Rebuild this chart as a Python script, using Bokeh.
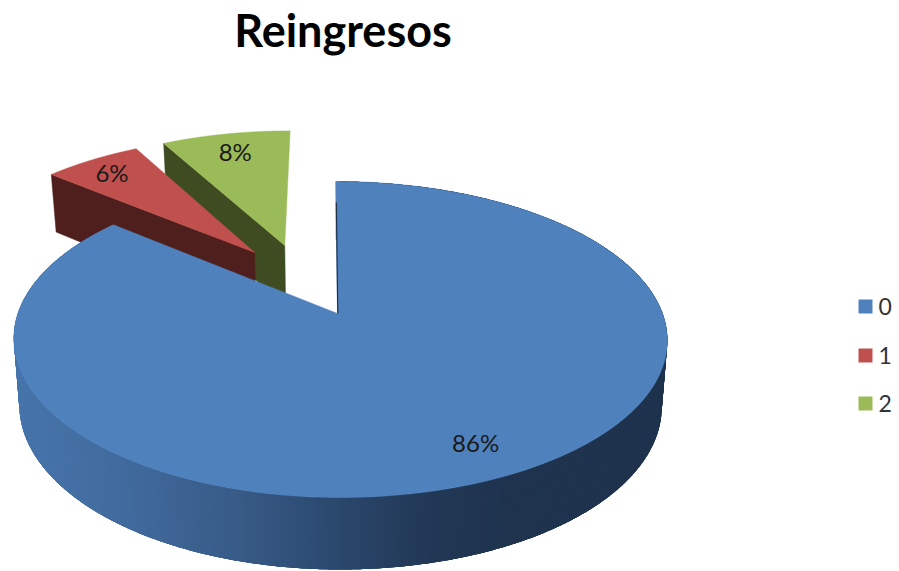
import numpy as np
from bokeh.plotting import figure
from bokeh.models import ColumnDataSource
from bokeh.core.properties import value
from bokeh.embed import file_html
from bokeh.resources import INLINE

title = "Reingresos"
categories = ["0", "1", "2"]
shares = [86, 6, 8]
percent_labels = ["86%", "6%", "8%"]
colors = ["#4f81bd", "#c0504d", "#9bbb59"]
inner_colors = ["#1f334e", "#4f1f1d", "#3f4c22"]

# Explosion of each slice on the pie plane, and where its label sits along the bisector
explode = [(0.0, 0.0), (-0.275, 0.425), (-0.175, 0.477)]
label_radius = [0.81, 0.85, 0.82]
label_nudge = [(9, 1), (-2, 0), (0, 0)]

# Perspective projection of the pie plane onto the page
X0, Y0, PERSP, AY = 337.0, 313.0, 0.1646, 153.7
AX_RIGHT, AX_LEFT = 325.0, 319.6
SKEW = -2.0


def project(u, v):
    u, v = np.asarray(u, float), np.asarray(v, float)
    w = 1 + PERSP * v
    ax = np.where(u >= 0, AX_RIGHT, AX_LEFT)
    return X0 + (ax * u + SKEW * v) / w, Y0 - AY * v / w


def drop(x, y, v):
    """Bottom of the extrusion below a top-face point."""
    return X0 + (np.asarray(x) - X0) * 0.983, np.asarray(y) + 65 - 7 * np.asarray(v)


def wedge(start, end, offset, n=90):
    t = np.radians(np.linspace(start, end, n))
    us = np.concatenate([[0.0], np.sin(t)]) + offset[0]
    vs = np.concatenate([[0.0], np.cos(t)]) + offset[1]
    return us, vs


edges = np.concatenate([[0.0], np.cumsum(shares) / np.sum(shares) * 360.0])

p = figure(width=899, height=571, x_range=(0, 899), y_range=(571, 0),
           output_backend="svg", toolbar_location=None, min_border=0,
           outline_line_color=None, background_fill_color="white")
p.axis.visible = False
p.grid.visible = False


def inner_face(i, angle):
    ox, oy = explode[i]
    a = np.radians(angle)
    us = np.array([ox, ox + np.sin(a)])
    vs = np.array([oy, oy + np.cos(a)])
    x, y = project(us, vs)
    bx, by = drop(x, y, vs)
    p.patch(np.r_[x, bx[::-1]], np.r_[y, by[::-1]], fill_color=inner_colors[i],
            line_color=inner_colors[i], line_width=0.5)


def top_face(i):
    us, vs = wedge(edges[i], edges[i + 1], explode[i], n=200)
    x, y = project(us, vs)
    p.patch(x, y, fill_color=colors[i], line_color=colors[i], line_width=0.5)


# Exploded slices, farthest first
inner_face(2, edges[2])
top_face(2)
inner_face(1, edges[1])
top_face(1)

# Outer wall of the large slice: overlapping strips, left to right shading,
# painted without outlines so no seams show between them
rim = np.radians(np.arange(0, edges[1] + 0.25, 0.5))
rx, ry = project(np.sin(rim), np.cos(rim))
bx, by = drop(rx, ry, np.cos(rim))
strips_x, strips_y, strip_colors = [], [], []
stops_x = [20, 120, 240, 340, 430, 520, 670]
stops_rgb = np.array([[0x47, 0x75, 0xab], [0x42, 0x6c, 0x9f], [0x38, 0x5b, 0x87],
                      [0x2b, 0x48, 0x6d], [0x22, 0x38, 0x56], [0x1f, 0x33, 0x4e],
                      [0x1f, 0x33, 0x4e]])
OVERLAP = 4
for i in range(len(rim) - 1):
    j = min(i + OVERLAP, len(rim) - 1)
    strips_x.append(np.r_[rx[i:j + 1], bx[i:j + 1][::-1]].tolist())
    strips_y.append(np.r_[ry[i:j + 1], by[i:j + 1][::-1]].tolist())
    mid = (rx[i] + bx[i]) / 2
    rgb = [int(np.interp(mid, stops_x, stops_rgb[:, c])) for c in range(3)]
    strip_colors.append("#%02x%02x%02x" % tuple(rgb))
p.patches("xs", "ys", fill_color="c", line_color=None,
          source=ColumnDataSource(dict(xs=strips_x, ys=strips_y, c=strip_colors)))

top_face(0)

# Sliver of the large slice's cut face along its first radius
sx, sy = project([0.0, 0.0], [0.0, 0.82])
p.line(sx + 0.3, sy, line_color=inner_colors[0], line_width=1.2)

# Percentage labels placed on each slice's bisector
for i, lab in enumerate(percent_labels):
    a = np.radians((edges[i] + edges[i + 1]) / 2)
    ox, oy = explode[i]
    lx, ly = project(ox + label_radius[i] * np.sin(a), oy + label_radius[i] * np.cos(a))
    p.text([float(lx) + label_nudge[i][0]], [float(ly) + label_nudge[i][1]], text=[lab],
           text_font=value("Lato"), text_font_size="24px", text_color="#1a1a1a",
           text_align="center", text_baseline="middle")

p.text([342.5], [29], text=[title], text_font=value("Lato"), text_font_style="bold",
       text_font_size="45px", text_color="black", text_align="center",
       text_baseline="middle")

# Legend
legend_y = [306, 355, 403]
p.rect([865] * 3, legend_y, width=14, height=14, fill_color=colors, line_color=None)
p.text([878] * 3, legend_y, text=categories, text_font=value("Lato"),
       text_font_size="23px", text_color="#333333", text_baseline="middle")

open("out.html", "w").write(file_html(p, INLINE))
